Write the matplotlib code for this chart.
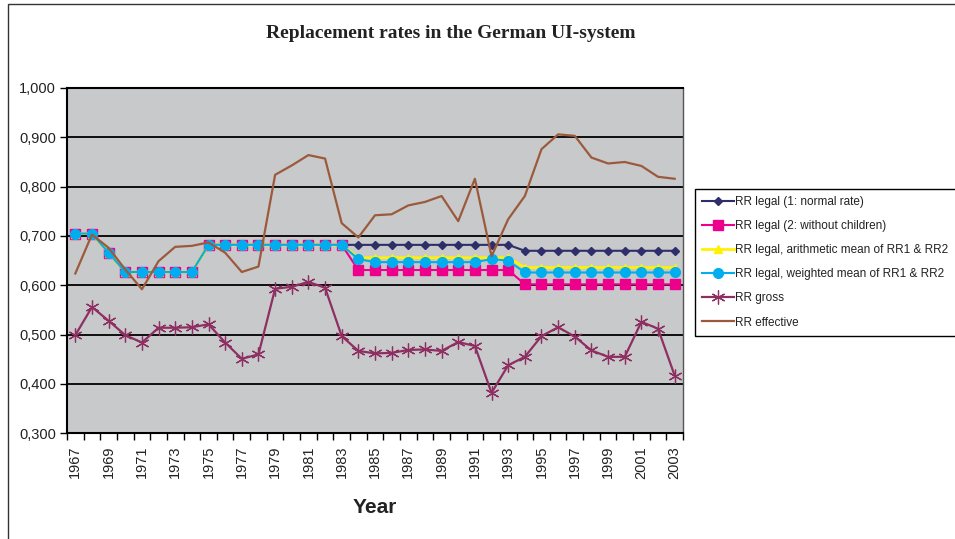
import matplotlib
matplotlib.use("Agg")
import matplotlib.pyplot as plt
from matplotlib.ticker import FixedLocator, FuncFormatter
from matplotlib.patches import Rectangle

years = list(range(1967, 2004))

rr_normal = [0.705, 0.705, 0.666, 0.627, 0.627, 0.627, 0.627, 0.627,
             0.682, 0.682, 0.682, 0.682, 0.682, 0.682, 0.682, 0.682, 0.682,
             0.682, 0.682, 0.682, 0.682, 0.682, 0.682, 0.682, 0.682, 0.682, 0.682,
             0.670, 0.670, 0.670, 0.670, 0.670, 0.670, 0.670, 0.670, 0.670, 0.670]
rr_nochild = [0.705, 0.705, 0.666, 0.627, 0.627, 0.627, 0.627, 0.627,
              0.682, 0.682, 0.682, 0.682, 0.682, 0.682, 0.682, 0.682, 0.682,
              0.631, 0.631, 0.631, 0.631, 0.631, 0.631, 0.631, 0.631, 0.631, 0.631,
              0.602, 0.602, 0.602, 0.602, 0.602, 0.602, 0.602, 0.602, 0.602, 0.602]
rr_arith = [0.705, 0.705, 0.666, 0.627, 0.627, 0.627, 0.627, 0.627,
            0.682, 0.682, 0.682, 0.682, 0.682, 0.682, 0.682, 0.682, 0.682,
            0.656, 0.656, 0.656, 0.656, 0.656, 0.656, 0.656, 0.656, 0.656, 0.656,
            0.636, 0.636, 0.636, 0.636, 0.636, 0.636, 0.636, 0.636, 0.636, 0.636]
rr_weighted = [0.705, 0.705, 0.666, 0.627, 0.627, 0.627, 0.627, 0.627,
               0.682, 0.682, 0.682, 0.682, 0.682, 0.682, 0.682, 0.682, 0.682,
               0.653, 0.647, 0.647, 0.647, 0.647, 0.647, 0.647, 0.647, 0.653, 0.650,
               0.626, 0.626, 0.626, 0.626, 0.626, 0.626, 0.626, 0.626, 0.626, 0.626]
rr_gross = [0.499, 0.556, 0.528, 0.499, 0.484, 0.514, 0.514, 0.515, 0.521, 0.484,
            0.451, 0.460, 0.593, 0.597, 0.607, 0.595, 0.497, 0.467, 0.462, 0.463,
            0.469, 0.470, 0.467, 0.485, 0.477, 0.382, 0.438, 0.455, 0.497, 0.515,
            0.496, 0.468, 0.455, 0.455, 0.526, 0.512, 0.417]
rr_eff = [0.624, 0.703, 0.676, 0.632, 0.592, 0.649, 0.678, 0.680, 0.687, 0.666,
          0.627, 0.638, 0.824, 0.843, 0.864, 0.857, 0.726, 0.697, 0.742, 0.744,
          0.762, 0.769, 0.781, 0.730, 0.816, 0.659, 0.734, 0.781, 0.876, 0.906,
          0.903, 0.859, 0.847, 0.850, 0.842, 0.820, 0.816]

labels = ["RR legal (1: normal rate)", "RR legal (2: without children)",
          "RR legal, arithmetic mean of RR1 & RR2", "RR legal, weighted mean of RR1 & RR2",
          "RR gross", "RR effective"]
y_ticks = [0.3, 0.4, 0.5, 0.6, 0.7, 0.8, 0.9, 1.0]

plt.rcParams['font.family'] = ['Liberation Sans', 'DejaVu Sans']

W, H = 955, 539
fig = plt.figure(figsize=(W / 100, H / 100), dpi=100)

# outer chart frame
fig.patches.append(Rectangle((8 / W, -0.05), 1.2, 1 - 4 / H + 0.05, transform=fig.transFigure,
                             fill=False, edgecolor='#333333', linewidth=1.0))

ax = fig.add_axes([67 / W, 1 - 433.3 / H, (683 - 67) / W, (433.3 - 88) / H])
ax.set_facecolor('#C8C9CB')

x = list(range(len(years)))
ax.plot(x, rr_normal, color='#2E2E6B', lw=1.5, marker='D', ms=4.5, label=labels[0], zorder=3)
ax.plot(x, rr_nochild, color='#EC008C', lw=1.5, marker='s', ms=6.5, label=labels[1], zorder=4)
ax.plot(x, rr_arith, color='#FFF200', lw=2.0, marker='^', ms=6, label=labels[2], zorder=5)
ax.plot(x, rr_weighted, color='#00AEEF', lw=1.5, marker='o', ms=7, label=labels[3], zorder=6)
ax.plot(x, rr_gross, color='#8E2F62', lw=1.6, marker=(6, 2, 0), ms=10, mew=0.9,
        label=labels[4], zorder=7)
ax.plot(x, rr_eff, color='#9C5A3C', lw=1.6, label=labels[5], zorder=8)

ax.set_xlim(-0.5, len(years) - 0.5)
ax.set_ylim(0.3, 1.0)
ax.yaxis.set_major_locator(FixedLocator(y_ticks))
ax.yaxis.set_major_formatter(FuncFormatter(lambda v, p: f"{v:.3f}".replace('.', ',')))
ax.grid(axis='y', color='black', linewidth=1.3)
ax.set_axisbelow(True)

ax.set_xticks(x[::2])
ax.set_xticklabels([str(y) for y in years[::2]], rotation=90)
ax.set_xticks([i - 0.5 for i in range(len(years) + 1)], minor=True)
ax.tick_params(axis='x', which='major', length=0, pad=9, labelsize=10.5, labelcolor='#222222')
ax.tick_params(axis='x', which='minor', length=5, width=1.0, direction='out')
ax.tick_params(axis='y', length=5, width=1.0, labelsize=10.5, labelcolor='#222222', pad=3)

for s in ['left', 'bottom', 'top']:
    ax.spines[s].set_color('black')
    ax.spines[s].set_linewidth(1.5)
ax.spines['right'].set_color('#555555')
ax.spines['right'].set_linewidth(1.0)

ax.set_xlabel('Year', fontsize=15, fontweight='bold', color='#222222', labelpad=14)

fig.text(451 / W, 1 - 33 / H, 'Replacement rates in the German UI-system',
         ha='center', va='center', fontsize=14, fontweight='bold',
         family=['Liberation Serif', 'DejaVu Serif'], color='#222222')

leg = fig.legend(loc='upper left', bbox_to_anchor=(695 / W, 1 - 189 / H),
                 frameon=True, fancybox=False, edgecolor='black', fontsize=8.5,
                 handlelength=2.7, handletextpad=0.1, labelspacing=1.02,
                 borderpad=0.62, borderaxespad=0, framealpha=1)
leg.get_frame().set_linewidth(1.0)
for t in leg.get_texts():
    t.set_color('#222222')

fig.savefig('out.png', dpi=100)
